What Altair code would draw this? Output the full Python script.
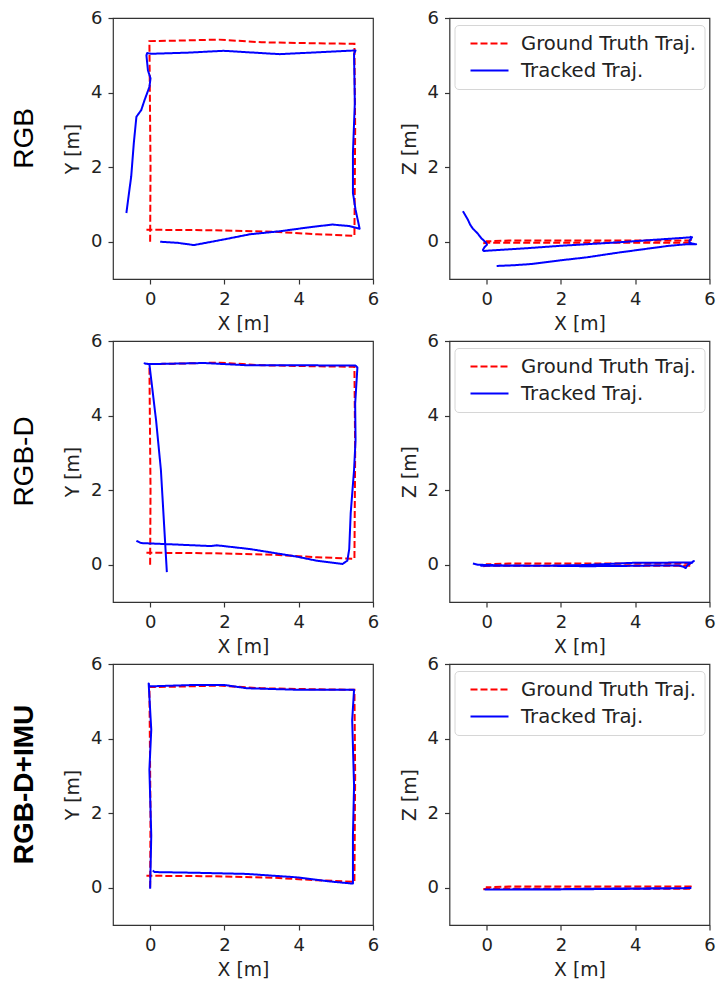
import altair as alt
import pandas as pd

# Ground truth trajectory (shared by all rows)
gt_x = [0.0, 0.01, -0.02, 0.6, 1.85, 3.0, 4.5, 5.5, 5.52, 5.5, 4.5, 3.3, 1.5, 0.0, -0.1]
gt_y = [0.0, 2.0, 5.38, 5.39, 5.42, 5.35, 5.32, 5.31, 3.0, 0.16, 0.2, 0.27, 0.31, 0.32, 0.32]
gt_z = [0.0, 0.0, 0.01, 0.03, 0.03, 0.03, 0.03, 0.03, 0.0, -0.03, -0.03, -0.03, -0.03, -0.03, -0.04]

# Tracked trajectory, RGB
rgb_x = [-0.64, -0.51, -0.44, -0.37, -0.24, -0.15, -0.02, 0.01, -0.06, -0.1, -0.08,
         0.03, 1.0, 1.98, 3.49, 4.5, 5.53,
         5.49, 5.51, 5.46, 5.46, 5.53, 5.64,
         5.36, 4.91, 4.38, 3.49, 2.69, 1.98, 1.18, 0.74, 0.27]
rgb_y = [0.77, 1.75, 2.64, 3.35, 3.53, 3.8, 4.15, 4.38, 4.6, 5.0, 5.06,
         5.04, 5.07, 5.12, 5.03, 5.08, 5.13,
         5.04, 3.71, 2.38, 1.31, 0.86, 0.35,
         0.42, 0.46, 0.40, 0.28, 0.2, 0.06, -0.09, -0.03, 0.0]
rgb_z = [0.82, 0.6, 0.45, 0.35, 0.22, 0.1, -0.02, -0.08, -0.15, -0.22, -0.25,
         -0.24, -0.18, -0.11, -0.02, 0.05, 0.12,
         0.13, 0.08, 0.03, -0.02, -0.05, -0.07,
         -0.07, -0.11, -0.18, -0.3, -0.42, -0.5, -0.6, -0.63, -0.65]

# Tracked trajectory, RGB-D
rgbd_x = [-0.37, -0.24, 0.5, 1.63, 1.8, 2.69, 3.93, 4.47, 5.18, 5.31, 5.36, 5.4, 5.49, 5.53, 5.52,
          5.58, 5.53, 3.93, 2.6, 1.45, 0.5, -0.06, -0.15, -0.02, 0.16, 0.29, 0.45]
rgbd_y = [0.64, 0.58, 0.55, 0.5, 0.52, 0.42, 0.22, 0.11, 0.02, 0.11, 0.42, 1.39, 2.54, 3.34, 4.32,
          5.29, 5.34, 5.35, 5.35, 5.41, 5.39, 5.38, 5.4, 5.38, 3.87, 2.54, -0.2]
rgbd_z = [0.03, 0.0, -0.02, -0.03, -0.03, -0.04, -0.03, -0.02, -0.02, -0.06, -0.09, -0.02, 0.04, 0.05, 0.06,
          0.1, 0.06, 0.05, -0.01, -0.03, -0.03, -0.03, -0.03, -0.03, -0.03, -0.03, -0.03]

# Tracked trajectory, RGB-D+IMU
imu_x = [0.0, 0.03, -0.02, 0.03, -0.04, -0.02, 1.27, 1.98, 2.6, 3.93, 5.49, 5.44, 5.49, 5.46, 5.46,
         4.82, 3.93, 2.6, 1.27, 0.12, 0.07]
imu_y = [-0.03, 1.4, 3.17, 4.24, 5.48, 5.4, 5.44, 5.44, 5.35, 5.31, 5.31, 4.5, 2.73, 1.4, 0.11,
         0.17, 0.28, 0.37, 0.4, 0.42, 0.46]
imu_z = [-0.05, -0.05, -0.05, -0.05, -0.05, -0.05, -0.04, -0.04, -0.03, -0.02, -0.01, 0.0, 0.0, 0.0, -0.01,
         -0.02, -0.03, -0.04, -0.05, -0.05, -0.05]

row_labels = ["RGB", "RGB-D", "RGB-D+IMU"]
series = ["Ground Truth Traj.", "Tracked Traj."]
colors = ["#ff0000", "#0000ff"]
dashes = [[7, 3], [1, 0]]
ticks = [0, 2, 4, 6]

def frame(xs, ys, zs, name):
    return pd.DataFrame({"i": list(range(len(xs))), "x": xs, "y": ys, "z": zs, "series": name})

gt_df = frame(gt_x, gt_y, gt_z, series[0])
tracked = [frame(rgb_x, rgb_y, rgb_z, series[1]),
           frame(rgbd_x, rgbd_y, rgbd_z, series[1]),
           frame(imu_x, imu_y, imu_z, series[1])]

W, H = 260, 261

def panel(tr_df, vcol, vtitle, with_legend, row_title=None, bold=False):
    if with_legend:
        leg = alt.Legend(title=None, orient="none", legendX=5, legendY=7,
                         symbolType="M-2,0H2", symbolSize=361, symbolStrokeWidth=2,
                         symbolOffset=16.5, labelOffset=21, padding=8, rowPadding=6,
                         labelFont="DejaVu Sans", labelFontSize=19.6, labelColor="#222222",
                         strokeColor="#d6d6d6", cornerRadius=4, fillColor="white", labelLimit=400)
    else:
        leg = None
    enc = dict(
        x=alt.X("x:Q", scale=alt.Scale(domain=[-1, 6], nice=False, zero=False),
                axis=alt.Axis(values=ticks, title="X [m]", titlePadding=6)),
        y=alt.Y(f"{vcol}:Q", scale=alt.Scale(domain=[-1, 6], nice=False, zero=False),
                axis=alt.Axis(values=ticks, title=vtitle)),
        order=alt.Order("i:Q"),
        color=alt.Color("series:N", scale=alt.Scale(domain=series, range=colors), legend=leg),
        strokeDash=alt.StrokeDash("series:N", scale=alt.Scale(domain=series, range=dashes), legend=leg),
    )
    gt = alt.Chart(gt_df).mark_line(strokeWidth=2, strokeCap="butt").encode(**enc)
    tr = alt.Chart(tr_df).mark_line(strokeWidth=2, strokeCap="butt", strokeJoin="round").encode(**enc)
    props = dict(width=W, height=H)
    if row_title is not None:
        props["title"] = alt.TitleParams(text=row_title, orient="left", anchor="middle",
                                         font="Liberation Sans", fontSize=28,
                                         fontWeight="bold" if bold else "normal",
                                         color="#000000", offset=24.5, dx=10)
    return alt.layer(gt, tr).properties(**props)

panels = []
for k in range(3):
    panels.append(panel(tracked[k], "y", "Y [m]", False, row_labels[k], bold=(k == 2)))
    panels.append(panel(tracked[k], "z", "Z [m]", True))

chart = alt.concat(*panels, columns=2, bounds="flush",
                   spacing={"row": 62, "column": 76.5}).resolve_scale(
    color="independent", strokeDash="independent").resolve_legend(
    color="independent", strokeDash="independent").properties(
    padding={"left": 2, "top": 0, "right": 0, "bottom": 0}
).configure_view(stroke="#333333", strokeWidth=1.2).configure_axis(
    domain=False, grid=False, tickColor="#333333", tickSize=5, tickWidth=1.2,
    labelFont="DejaVu Sans", labelFontSize=18, labelColor="#222222", labelPadding=6,
    labelFlush=False, labelOverlap=False,
    titleFont="DejaVu Sans", titleFontSize=18.8, titleFontWeight="normal",
    titleColor="#222222", titlePadding=8)

chart.save("out.html", embed_options={"renderer": "svg", "actions": False})
